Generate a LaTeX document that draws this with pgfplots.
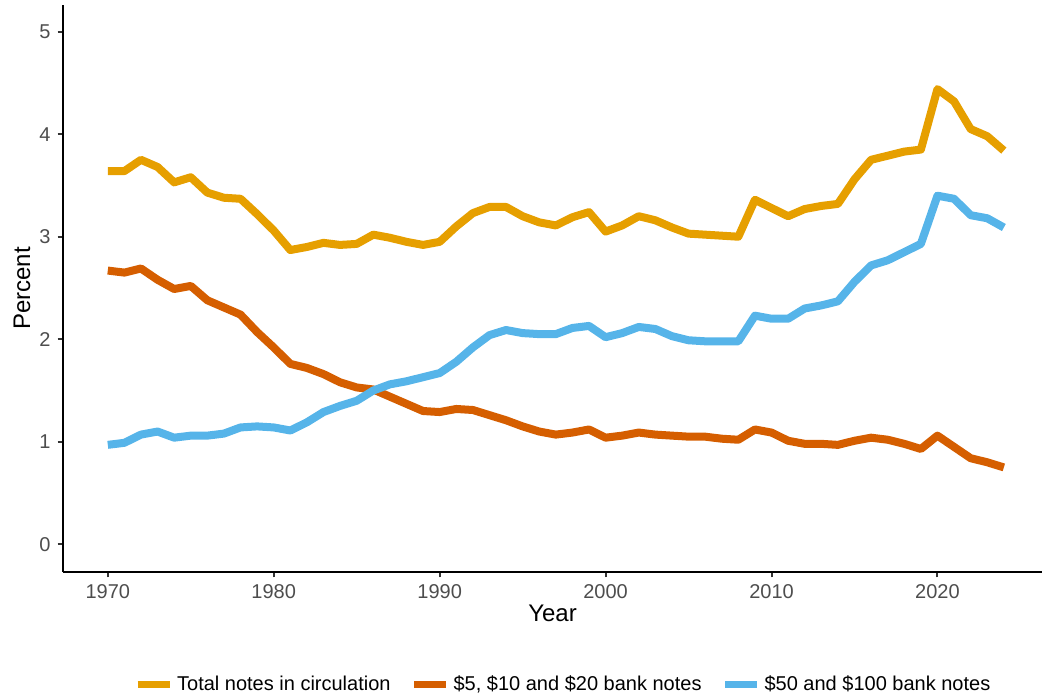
\documentclass[border=0pt]{standalone}
\usepackage{fontspec}
\setmainfont{Liberation Sans}
\usepackage{pgfplots}
\usepackage{pgfplotstable}
\pgfplotsset{compat=1.18}

\definecolor{cTotal}{HTML}{E69F00}
\definecolor{cSmall}{HTML}{D55E00}
\definecolor{cLarge}{HTML}{56B4E9}
\definecolor{tickgray}{HTML}{4D4D4D}

% year, total, small (5/10/20), large (50/100)
\pgfplotstableread{
year total small large
1970 3.64 2.67 0.97
1971 3.64 2.65 0.99
1972 3.75 2.69 1.07
1973 3.68 2.58 1.10
1974 3.53 2.49 1.04
1975 3.58 2.52 1.06
1976 3.43 2.38 1.06
1977 3.38 2.31 1.08
1978 3.37 2.24 1.14
1979 3.22 2.07 1.15
1980 3.06 1.92 1.14
1981 2.87 1.76 1.11
1982 2.90 1.72 1.19
1983 2.94 1.66 1.29
1984 2.92 1.58 1.35
1985 2.93 1.53 1.40
1986 3.02 1.51 1.50
1987 2.99 1.44 1.56
1988 2.95 1.37 1.59
1989 2.92 1.30 1.63
1990 2.95 1.29 1.67
1991 3.10 1.32 1.78
1992 3.23 1.31 1.92
1993 3.29 1.26 2.04
1994 3.29 1.21 2.09
1995 3.20 1.15 2.06
1996 3.14 1.10 2.05
1997 3.11 1.07 2.05
1998 3.19 1.09 2.11
1999 3.24 1.12 2.13
2000 3.05 1.04 2.02
2001 3.11 1.06 2.06
2002 3.20 1.09 2.12
2003 3.16 1.07 2.10
2004 3.09 1.06 2.03
2005 3.03 1.05 1.99
2006 3.02 1.05 1.98
2007 3.01 1.03 1.98
2008 3.00 1.02 1.98
2009 3.36 1.12 2.23
2010 3.28 1.09 2.20
2011 3.20 1.01 2.20
2012 3.27 0.98 2.30
2013 3.30 0.98 2.33
2014 3.32 0.97 2.37
2015 3.56 1.01 2.56
2016 3.75 1.04 2.72
2017 3.79 1.02 2.77
2018 3.83 0.98 2.85
2019 3.85 0.93 2.93
2020 4.44 1.06 3.40
2021 4.32 0.95 3.37
2022 4.05 0.84 3.21
2023 3.98 0.80 3.18
2024 3.84 0.75 3.09
}\notes

\begin{document}
\begin{tikzpicture}
\begin{axis}[
    at={(0,0)}, anchor=south west,
    scale only axis,
    width=489.5pt, height=283.5pt,
    xmin=1967.3, xmax=2026.3,
    ymin=-0.27, ymax=5.26,
    axis x line=bottom, axis y line=left,
    axis line style={-, black, line width=1.1pt},
    xtick={1970,1980,...,2020},
    ytick={0,1,...,5},
    tick align=outside,
    major tick length=2.7pt,
    tick style={color=black!80, line width=1pt},
    xticklabel style={/pgf/number format/1000 sep={}},
    /pgf/number format/assume math mode=true,
    tick label style={font=\fontsize{10}{12}\selectfont, text=tickgray},
    xlabel={Year}, ylabel={Percent},
    label style={font=\fontsize{12}{14}\selectfont},
    xlabel style={at={(axis description cs:0.5,-0.0723)}, anchor=center},
    ylabel style={at={(axis description cs:-0.0419,0.5)}, anchor=center},
    legend columns=3,
    legend style={
        at={(axis description cs:0.512,-0.199)}, anchor=center,
        draw=none, fill=none,
        font=\fontsize{10}{12}\selectfont,
        /tikz/every even column/.append style={column sep=8pt},
    },
    legend image code/.code={
        \draw[line width=3.5pt] (0pt,0pt) -- (16pt,0pt);
    },
    every axis plot/.append style={line width=4pt, line join=round},
]
\addplot[cTotal] table[x=year, y=total] {\notes};
\addplot[cSmall] table[x=year, y=small] {\notes};
\addplot[cLarge] table[x=year, y=large] {\notes};
\legend{Total notes in circulation, {\$5, \$10 and \$20 bank notes}, \$50 and \$100 bank notes}
\end{axis}
\pgfresetboundingbox
\path (-31.5pt,-62pt) rectangle (489.5pt,286pt);
\end{tikzpicture}
\end{document}
